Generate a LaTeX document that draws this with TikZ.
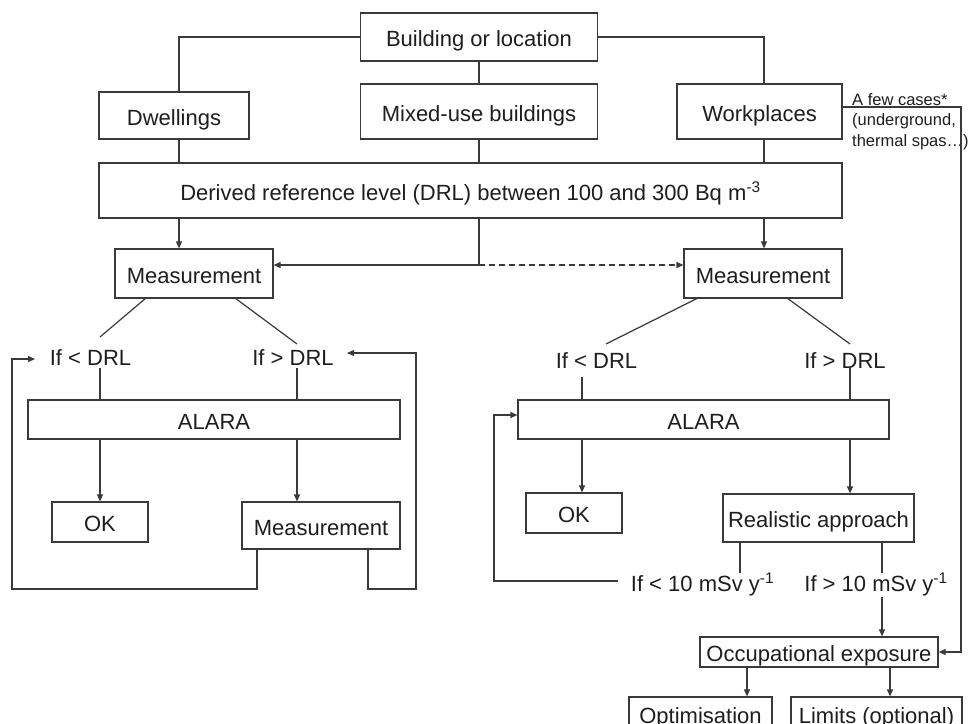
\documentclass[tikz,border=0pt]{standalone}
\usepackage{fontspec}
\setmainfont{Liberation Sans}
\usetikzlibrary{arrows.meta,calc}
\definecolor{ln}{HTML}{3A3A3A}
\definecolor{tx}{HTML}{1E1E1E}
\begin{document}
\begin{tikzpicture}[x=1pt,y=-1pt,
  box/.style={draw=ln, line width=1.2pt, inner sep=0pt, text=tx,
    font=\fontsize{22}{26}\selectfont, text height=20pt, text depth=1pt},
  lbl/.style={inner sep=0pt, text=tx, font=\fontsize{22}{26}\selectfont, anchor=base},
  con/.style={draw=ln, line width=1.2pt},
  arr/.style={con, -{Triangle[length=7pt,width=6pt]}}]
\clip (0,0) rectangle (973,723);
\fill[white] (0,0) rectangle (973,723);
% boxes
\node[box, minimum width=237pt, minimum height=48pt] (bld) at (479,37) {Building or location};
\node[box, minimum width=150pt, minimum height=47pt] (dw) at (174,115.5) {Dwellings};
\node[box, minimum width=237pt, minimum height=55pt] (mix) at (479,111.5) {Mixed-use buildings};
\node[box, minimum width=165pt, minimum height=55pt] (work) at (759.5,111.5) {Workplaces};
\node[box, minimum width=743pt, minimum height=55pt] (drl) at (470.5,190.5) {Derived reference level (DRL) between 100 and 300 Bq m\textsuperscript{-3}};
\node[box, minimum width=158pt, minimum height=49pt] (m1) at (194,273.5) {Measurement};
\node[box, minimum width=158pt, minimum height=49pt] (m2) at (763,273.5) {Measurement};
\node[box, minimum width=372pt, minimum height=39pt] (alaraL) at (214,419.5) {ALARA};
\node[box, minimum width=96pt, minimum height=40pt] (okL) at (100,522) {OK};
\node[box, minimum width=158pt, minimum height=47pt] (measL2) at (321,525.5) {Measurement};
\node[box, minimum width=371pt, minimum height=39pt] (alaraR) at (703.5,419.5) {ALARA};
\node[box, minimum width=96pt, minimum height=40pt] (okR) at (574,513) {OK};
\node[box, minimum width=191pt, minimum height=48pt] (real) at (818.5,518) {Realistic approach};
\node[box, minimum width=238pt, minimum height=30pt] (occ) at (819,652) {Occupational exposure};
\node[box, minimum width=143pt, minimum height=34pt] (opt) at (700.5,714) {Optimisation};
\node[box, minimum width=171pt, minimum height=34pt] (lim) at (876.5,714) {Limits (optional)};
% labels
\node[lbl] (ltL) at (90.5,365) {If < DRL};
\node[lbl] (gtL) at (293,365) {If > DRL};
\node[lbl] (ltR) at (596.5,368) {If < DRL};
\node[lbl] (gtR) at (845,368) {If > DRL};
\node[lbl] (lt10) at (702.5,591) {If < 10 mSv y\textsuperscript{-1}};
\node[lbl] (gt10) at (876,591) {If > 10 mSv y\textsuperscript{-1}};
\node[inner sep=0pt, text=tx, anchor=base west, align=left,
  font=\fontsize{16.5}{20.5}\selectfont] (few) at (852,146) {A few cases*\\(underground,\\thermal spas\ldots)};
% coordinates
\coordinate (cA) at (179,0);
\coordinate (cC) at (764,0);
\coordinate (j) at (479,265);
\coordinate (ltLt) at (100,337); \coordinate (ltLb) at (100,368);
\coordinate (gtLt) at (297,344); \coordinate (gtLb) at (297,368);
\coordinate (ltRt) at (606,344); \coordinate (ltRb) at (582,377);
\coordinate (gtRt) at (850,344); \coordinate (gtRb) at (850,368);
\coordinate (m1a) at (146,298); \coordinate (m1b) at (235,298);
\coordinate (m2a) at (698,298); \coordinate (m2b) at (787,298);
\coordinate (lpA) at (12,589); \coordinate (lpB) at (35,359);
\coordinate (lpC) at (416,589); \coordinate (lpD) at (347,353);
\coordinate (mL2a) at (257,0); \coordinate (mL2b) at (368,0);
\coordinate (r1t) at (740,573); \coordinate (r2t) at (882,573); \coordinate (r2b) at (882,597);
\coordinate (lt10e) at (618,581); \coordinate (rlp) at (494,415);
\coordinate (fc) at (961,107);
\coordinate (cK) at (747,0); \coordinate (cL) at (890,0);
% connectors
\draw[con] (bld.west) -| (cA |- dw.north);
\draw[con] (bld.south) -- (mix.north);
\draw[con] (bld.east) -| (cC |- work.north);
\draw[con] (cA |- dw.south) -- (cA |- drl.north);
\draw[con] (mix.south) -- (mix.south |- drl.north);
\draw[con] (cC |- work.south) -- (cC |- drl.north);
\draw[arr] (cA |- drl.south) -- (cA |- m1.north);
\draw[arr] (cC |- drl.south) -- (cC |- m2.north);
\draw[arr] (j |- drl.south) -- (j) -- (j -| m1.east);
\draw[arr, dashed, dash pattern=on 6pt off 4pt] (j) -- (j -| m2.west);
\draw[con] (m1a) -- (ltLt);
\draw[con] (m1b) -- (gtLt);
\draw[con] (m2a) -- (ltRt);
\draw[con] (m2b) -- (gtRt);
\draw[con] (ltLb) -- (ltLb |- alaraL.north);
\draw[con] (gtLb) -- (gtLb |- alaraL.north);
\draw[con] (ltRb) -- (ltRb |- alaraR.north);
\draw[con] (gtRb) -- (gtRb |- alaraR.north);
\draw[arr] (ltLb |- alaraL.south) -- (ltLb |- okL.north);
\draw[arr] (gtLb |- alaraL.south) -- (gtLb |- measL2.north);
\draw[arr] (ltRb |- alaraR.south) -- (ltRb |- okR.north);
\draw[arr] (gtRb |- alaraR.south) -- (gtRb |- real.north);
\draw[arr] (mL2a |- measL2.south) |- (lpA) |- (lpB);
\draw[arr] (mL2b |- measL2.south) |- (lpC) |- (lpD);
\draw[con] (r1t |- real.south) -- (r1t);
\draw[con] (r2t |- real.south) -- (r2t);
\draw[arr] (r2b) -- (r2b |- occ.north);
\draw[arr] (lt10e) -| (rlp) -- (rlp -| alaraR.west);
\draw[arr] (work.east |- fc) -- (fc) |- (occ.east);
\draw[arr] (cK |- occ.south) -- (cK |- opt.north);
\draw[arr] (cL |- occ.south) -- (cL |- lim.north);
\end{tikzpicture}
\end{document}
